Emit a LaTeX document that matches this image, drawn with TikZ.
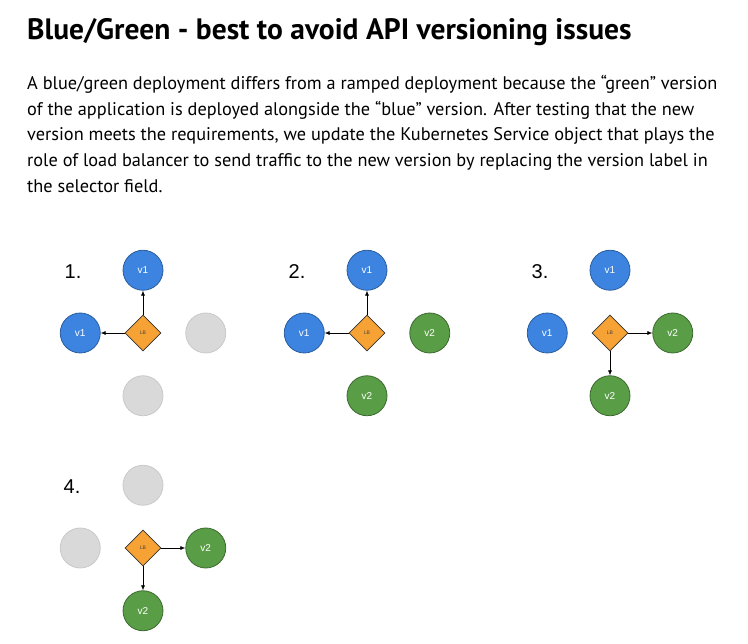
\documentclass[tikz,border=0pt]{standalone}
\usepackage{fontspec}
\setmainfont{PT Sans}
\newfontfamily\arialfont{Liberation Sans}
\usepackage{xcolor}
\usepackage{tikz}
\usetikzlibrary{positioning,shapes.geometric,arrows.meta}
\definecolor{podblue}{HTML}{3C84E0}
\definecolor{podbluedark}{HTML}{2B5C9E}
\definecolor{podgreen}{HTML}{5A9D47}
\definecolor{podgreendark}{HTML}{3B6A2E}
\definecolor{idlegrey}{HTML}{D9D9D9}
\definecolor{idleborder}{HTML}{C9C9C9}
\definecolor{lborange}{HTML}{F7A234}

\begin{document}
\begin{tikzpicture}[
x=1pt, y=-1pt,
node distance=24pt,
pod/.style={
circle,
minimum size=40pt,
inner sep=0pt,
line width=0.8pt,
text=white,
font=\arialfont\fontsize{10}{10}\selectfont
},
bluepod/.style={pod, draw=podbluedark, fill=podblue},
greenpod/.style={pod, draw=podgreendark, fill=podgreen},
idlepod/.style={pod, draw=idleborder, fill=idlegrey},
lb/.style={
diamond,
draw=black!80,
fill=lborange,
minimum size=36pt,
inner sep=0pt,
line width=0.7pt,
text=black!75,
font=\arialfont\fontsize{5}{5}\selectfont
},
step label/.style={
font=\arialfont\fontsize{20}{20}\selectfont
},
arrow/.style={
-{Latex[length=5pt,width=4pt]},
line width=0.6pt,
color=black
}
]
\useasboundingbox (0,0) rectangle (748,644);

% heading and text
\node[anchor=base west, inner sep=0pt, font=\bfseries\fontsize{29.5}{32}\selectfont]
(title) at (27,40) {Blue/Green - best to avoid API versioning issues};

\node[anchor=north west, inner sep=0pt, align=left,
font=\fontsize{18.3}{25.7}\selectfont] (intro) at (27,75)
{A blue/green deployment differs from a ramped deployment because the ``green'' version\\
of the application is deployed alongside the ``blue'' version. After testing that the new\\
version meets the requirements, we update the Kubernetes Service object that plays the\\
role of load balancer to send traffic to the new version by replacing the version label in\\
the selector field.};

% 1.
\node[step label] (num1) at (73,272) {1.};
\node[lb] (lb1) at (143,333) {LB};
\node[bluepod, above=of lb1] (top1) {v1};
\node[bluepod, left=of lb1] (left1) {v1};
\node[idlepod, right=of lb1] (right1) {};
\node[idlepod, below=of lb1] (bot1) {};
\draw[arrow] (lb1) -- (top1);
\draw[arrow] (lb1) -- (left1);

% 2.
\node[step label] (num2) at (297,272) {2.};
\node[lb] (lb2) at (367,333) {LB};
\node[bluepod, above=of lb2] (top2) {v1};
\node[bluepod, left=of lb2] (left2) {v1};
\node[greenpod, right=of lb2] (right2) {v2};
\node[greenpod, below=of lb2] (bot2) {v2};
\draw[arrow] (lb2) -- (top2);
\draw[arrow] (lb2) -- (left2);

% 3.
\node[step label] (num3) at (540,272) {3.};
\node[lb] (lb3) at (610,333) {LB};
\node[bluepod, above=of lb3] (top3) {v1};
\node[bluepod, left=of lb3] (left3) {v1};
\node[greenpod, right=of lb3] (right3) {v2};
\node[greenpod, below=of lb3] (bot3) {v2};
\draw[arrow] (lb3) -- (right3);
\draw[arrow] (lb3) -- (bot3);

% 4.
\node[step label] (num4) at (72,487) {4.};
\node[lb] (lb4) at (143,548) {LB};
\node[idlepod, above=of lb4] (top4) {};
\node[idlepod, left=of lb4] (left4) {};
\node[greenpod, right=of lb4] (right4) {v2};
\node[greenpod, below=of lb4] (bot4) {v2};
\draw[arrow] (lb4) -- (right4);
\draw[arrow] (lb4) -- (bot4);

\end{tikzpicture}
\end{document}
